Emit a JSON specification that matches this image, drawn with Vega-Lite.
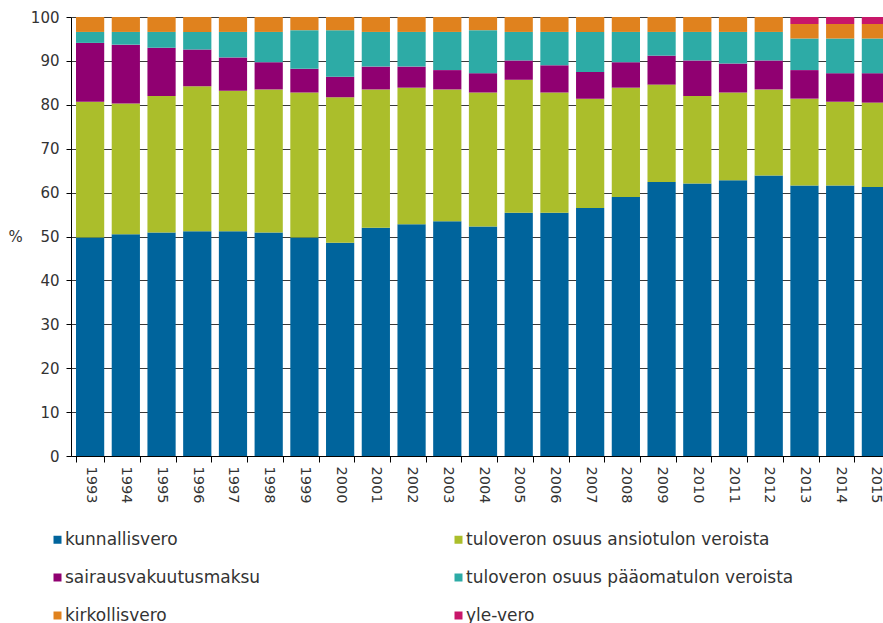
{
  "$schema": "https://vega.github.io/schema/vega-lite/v6.json",
  "autosize": {"type": "none"},
  "padding": {"left": 71, "top": 17, "right": 0, "bottom": 167},
  "width": 824,
  "height": 439,
  "background": "white",
  "datasets": {
    "jarjestys": [
      {"vero": "kunnallisvero", "jarj": 1},
      {"vero": "tuloveron osuus ansiotulon veroista", "jarj": 2},
      {"vero": "sairausvakuutusmaksu", "jarj": 3},
      {"vero": "tuloveron osuus pääomatulon veroista", "jarj": 4},
      {"vero": "kirkollisvero", "jarj": 5},
      {"vero": "yle-vero", "jarj": 6}
    ]
  },
  "data": {
    "values": [
      {"year": "1993", "kunnallisvero": 49.8, "tuloveron osuus ansiotulon veroista": 30.9, "sairausvakuutusmaksu": 13.4, "tuloveron osuus pääomatulon veroista": 2.5, "kirkollisvero": 3.4, "yle-vero": 0},
      {"year": "1994", "kunnallisvero": 50.5, "tuloveron osuus ansiotulon veroista": 29.8, "sairausvakuutusmaksu": 13.4, "tuloveron osuus pääomatulon veroista": 2.9, "kirkollisvero": 3.4, "yle-vero": 0},
      {"year": "1995", "kunnallisvero": 50.9, "tuloveron osuus ansiotulon veroista": 31.1, "sairausvakuutusmaksu": 11.0, "tuloveron osuus pääomatulon veroista": 3.6, "kirkollisvero": 3.4, "yle-vero": 0},
      {"year": "1996", "kunnallisvero": 51.2, "tuloveron osuus ansiotulon veroista": 33.0, "sairausvakuutusmaksu": 8.4, "tuloveron osuus pääomatulon veroista": 4.0, "kirkollisvero": 3.4, "yle-vero": 0},
      {"year": "1997", "kunnallisvero": 51.2, "tuloveron osuus ansiotulon veroista": 32.0, "sairausvakuutusmaksu": 7.6, "tuloveron osuus pääomatulon veroista": 5.8, "kirkollisvero": 3.4, "yle-vero": 0},
      {"year": "1998", "kunnallisvero": 50.9, "tuloveron osuus ansiotulon veroista": 32.6, "sairausvakuutusmaksu": 6.2, "tuloveron osuus pääomatulon veroista": 6.9, "kirkollisvero": 3.4, "yle-vero": 0},
      {"year": "1999", "kunnallisvero": 49.8, "tuloveron osuus ansiotulon veroista": 33.0, "sairausvakuutusmaksu": 5.4, "tuloveron osuus pääomatulon veroista": 8.8, "kirkollisvero": 3.0, "yle-vero": 0},
      {"year": "2000", "kunnallisvero": 48.6, "tuloveron osuus ansiotulon veroista": 33.1, "sairausvakuutusmaksu": 4.7, "tuloveron osuus pääomatulon veroista": 10.6, "kirkollisvero": 3.0, "yle-vero": 0},
      {"year": "2001", "kunnallisvero": 52.0, "tuloveron osuus ansiotulon veroista": 31.5, "sairausvakuutusmaksu": 5.2, "tuloveron osuus pääomatulon veroista": 7.9, "kirkollisvero": 3.4, "yle-vero": 0},
      {"year": "2002", "kunnallisvero": 52.8, "tuloveron osuus ansiotulon veroista": 31.1, "sairausvakuutusmaksu": 4.8, "tuloveron osuus pääomatulon veroista": 7.9, "kirkollisvero": 3.4, "yle-vero": 0},
      {"year": "2003", "kunnallisvero": 53.5, "tuloveron osuus ansiotulon veroista": 30.0, "sairausvakuutusmaksu": 4.4, "tuloveron osuus pääomatulon veroista": 8.7, "kirkollisvero": 3.4, "yle-vero": 0},
      {"year": "2004", "kunnallisvero": 52.3, "tuloveron osuus ansiotulon veroista": 30.5, "sairausvakuutusmaksu": 4.4, "tuloveron osuus pääomatulon veroista": 9.8, "kirkollisvero": 3.0, "yle-vero": 0},
      {"year": "2005", "kunnallisvero": 55.4, "tuloveron osuus ansiotulon veroista": 30.3, "sairausvakuutusmaksu": 4.4, "tuloveron osuus pääomatulon veroista": 6.5, "kirkollisvero": 3.4, "yle-vero": 0},
      {"year": "2006", "kunnallisvero": 55.4, "tuloveron osuus ansiotulon veroista": 27.4, "sairausvakuutusmaksu": 6.2, "tuloveron osuus pääomatulon veroista": 7.6, "kirkollisvero": 3.4, "yle-vero": 0},
      {"year": "2007", "kunnallisvero": 56.5, "tuloveron osuus ansiotulon veroista": 24.9, "sairausvakuutusmaksu": 6.1, "tuloveron osuus pääomatulon veroista": 9.1, "kirkollisvero": 3.4, "yle-vero": 0},
      {"year": "2008", "kunnallisvero": 59.0, "tuloveron osuus ansiotulon veroista": 24.9, "sairausvakuutusmaksu": 5.8, "tuloveron osuus pääomatulon veroista": 6.9, "kirkollisvero": 3.4, "yle-vero": 0},
      {"year": "2009", "kunnallisvero": 62.4, "tuloveron osuus ansiotulon veroista": 22.2, "sairausvakuutusmaksu": 6.6, "tuloveron osuus pääomatulon veroista": 5.4, "kirkollisvero": 3.4, "yle-vero": 0},
      {"year": "2010", "kunnallisvero": 62.1, "tuloveron osuus ansiotulon veroista": 19.9, "sairausvakuutusmaksu": 8.1, "tuloveron osuus pääomatulon veroista": 6.5, "kirkollisvero": 3.4, "yle-vero": 0},
      {"year": "2011", "kunnallisvero": 62.8, "tuloveron osuus ansiotulon veroista": 20.0, "sairausvakuutusmaksu": 6.6, "tuloveron osuus pääomatulon veroista": 7.2, "kirkollisvero": 3.4, "yle-vero": 0},
      {"year": "2012", "kunnallisvero": 63.9, "tuloveron osuus ansiotulon veroista": 19.6, "sairausvakuutusmaksu": 6.6, "tuloveron osuus pääomatulon veroista": 6.5, "kirkollisvero": 3.4, "yle-vero": 0},
      {"year": "2013", "kunnallisvero": 61.6, "tuloveron osuus ansiotulon veroista": 19.8, "sairausvakuutusmaksu": 6.5, "tuloveron osuus pääomatulon veroista": 7.2, "kirkollisvero": 3.3, "yle-vero": 1.6},
      {"year": "2014", "kunnallisvero": 61.6, "tuloveron osuus ansiotulon veroista": 19.1, "sairausvakuutusmaksu": 6.5, "tuloveron osuus pääomatulon veroista": 7.9, "kirkollisvero": 3.3, "yle-vero": 1.6},
      {"year": "2015", "kunnallisvero": 61.3, "tuloveron osuus ansiotulon veroista": 19.2, "sairausvakuutusmaksu": 6.7, "tuloveron osuus pääomatulon veroista": 7.9, "kirkollisvero": 3.3, "yle-vero": 1.6}
    ]
  },
  "transform": [
    {"fold": ["kunnallisvero", "tuloveron osuus ansiotulon veroista", "sairausvakuutusmaksu", "tuloveron osuus pääomatulon veroista", "kirkollisvero", "yle-vero"], "as": ["vero", "osuus"]},
    {"lookup": "vero", "from": {"data": {"name": "jarjestys"}, "key": "vero", "fields": ["jarj"]}}
  ],
  "mark": {"type": "bar"},
  "encoding": {
    "x": {
      "field": "year",
      "type": "ordinal",
      "scale": {"paddingInner": 0.21, "paddingOuter": 0.14},
      "axis": {
        "title": null,
        "labelAngle": 90,
        "labelAlign": "left",
        "labelBaseline": "middle",
        "labelPadding": 4,
        "labelFontSize": 14.5,
        "tickBand": "extent",
        "tickSize": 6,
        "tickColor": "#000000",
        "domainColor": "#000000",
        "grid": false
      }
    },
    "y": {
      "field": "osuus",
      "type": "quantitative",
      "stack": "zero",
      "scale": {"domain": [0, 100], "nice": false},
      "axis": {
        "values": [0, 10, 20, 30, 40, 50, 60, 70, 80, 90, 100],
        "title": "%",
        "titleAngle": 0,
        "titleX": -56,
        "titleY": 219,
        "titleAlign": "center",
        "titleBaseline": "middle",
        "titleFontWeight": "normal",
        "titleFontSize": 15,
        "titleColor": "#333333",
        "labelPadding": 7,
        "labelFontSize": 15,
        "tickSize": 5,
        "tickColor": "#000000",
        "domainColor": "#000000",
        "grid": true,
        "gridColor": "#3a3a3a",
        "gridOpacity": 1
      }
    },
    "order": {"field": "jarj", "type": "quantitative", "sort": "ascending"},
    "color": {
      "field": "vero",
      "type": "nominal",
      "sort": ["kunnallisvero", "tuloveron osuus ansiotulon veroista", "sairausvakuutusmaksu", "tuloveron osuus pääomatulon veroista", "kirkollisvero", "yle-vero"],
      "scale": {
        "domain": ["kunnallisvero", "tuloveron osuus ansiotulon veroista", "sairausvakuutusmaksu", "tuloveron osuus pääomatulon veroista", "kirkollisvero", "yle-vero"],
        "range": ["#00649c", "#abbe2b", "#900071", "#2daba6", "#e0821e", "#c8176a"]
      },
      "legend": {
        "title": null,
        "orient": "none",
        "direction": "horizontal",
        "legendX": -22,
        "legendY": 514,
        "columns": 2,
        "columnPadding": 189,
        "rowPadding": 20,
        "symbolType": "square",
        "symbolSize": 64,
        "symbolStrokeWidth": 0,
        "labelFontSize": 17,
        "labelOffset": -1,
        "labelColor": "#333333",
        "labelLimit": 400
      }
    }
  },
  "config": {
    "font": "DejaVu Sans",
    "view": {"stroke": null},
    "axis": {"labelColor": "#333333", "labelFont": "DejaVu Sans", "titleFont": "DejaVu Sans"},
    "legend": {"labelFont": "DejaVu Sans"}
  }
}
